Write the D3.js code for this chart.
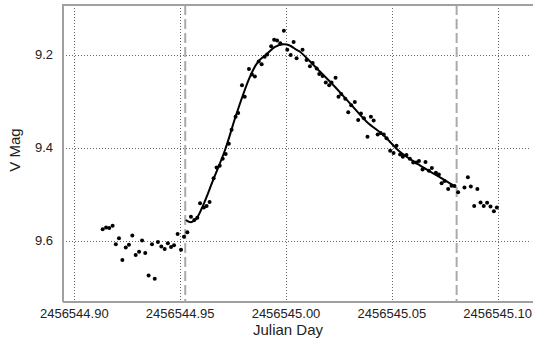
<!DOCTYPE html>
<html><head><meta charset="utf-8">
<script src="https://cdn.jsdelivr.net/npm/d3@7"></script>
<style>body{margin:0;background:#fff}svg{display:block}text{font-family:"Liberation Sans",Arial,sans-serif;fill:#222}</style>
</head><body><svg id="c" width="533" height="349"></svg>
<script>
const obsJD = [2456544.9134,2456544.9150,2456544.9165,2456544.9181,2456544.9196,2456544.9211,2456544.9227,2456544.9243,2456544.9258,2456544.9274,2456544.9290,2456544.9306,2456544.9320,2456544.9335,2456544.9351,2456544.9380,2456544.9367,2456544.9395,2456544.9411,2456544.9427,2456544.9442,2456544.9457,2456544.9471,2456544.9488,2456544.9504,2456544.9518,2456544.9534,2456544.9551,2456544.9567,2456544.9581,2456544.9594,2456544.9612,2456544.9625,2456544.9639,2456544.9658,2456544.9672,2456544.9687,2456544.9701,2456544.9715,2456544.9730,2456544.9743,2456544.9762,2456544.9774,2456544.9792,2456544.9805,2456544.9825,2456544.9839,2456544.9853,2456544.9871,2456544.9885,2456544.9899,2456544.9911,2456544.9930,2456544.9944,2456544.9958,2456544.9973,2456544.9990,2456545.0006,2456545.0022,2456545.0036,2456545.0050,2456545.0078,2456545.0097,2456545.0113,2456545.0126,2456545.0145,2456545.0157,2456545.0173,2456545.0188,2456545.0204,2456545.0215,2456545.0234,2456545.0248,2456545.0261,2456545.0280,2456545.0294,2456545.0308,2456545.0325,2456545.0341,2456545.0354,2456545.0368,2456545.0385,2456545.0401,2456545.0414,2456545.0433,2456545.0447,2456545.0462,2456545.0475,2456545.0492,2456545.0508,2456545.0522,2456545.0539,2456545.0552,2456545.0569,2456545.0585,2456545.0601,2456545.0615,2456545.0628,2456545.0645,2456545.0659,2456545.0675,2456545.0689,2456545.0708,2456545.0722,2456545.0735,2456545.0749,2456545.0766,2456545.0782,2456545.0796,2456545.0813,2456545.0843,2456545.0859,2456545.0873,2456545.0904,2456545.0889,2456545.0919,2456545.0934,2456545.0950,2456545.0966,2456545.0982,2456545.0996];
const obsMag = [9.575,9.571,9.572,9.567,9.607,9.594,9.641,9.614,9.608,9.588,9.630,9.623,9.599,9.626,9.674,9.681,9.607,9.602,9.612,9.617,9.605,9.613,9.609,9.585,9.619,9.591,9.581,9.548,9.555,9.550,9.519,9.528,9.525,9.516,9.465,9.442,9.438,9.423,9.413,9.391,9.361,9.333,9.325,9.265,9.290,9.230,9.242,9.246,9.214,9.220,9.204,9.199,9.181,9.167,9.169,9.175,9.148,9.189,9.200,9.172,9.207,9.189,9.211,9.224,9.217,9.229,9.241,9.245,9.259,9.265,9.259,9.249,9.290,9.284,9.294,9.323,9.308,9.301,9.340,9.326,9.336,9.376,9.333,9.341,9.371,9.368,9.371,9.379,9.406,9.411,9.395,9.414,9.419,9.415,9.423,9.431,9.431,9.428,9.446,9.430,9.449,9.443,9.453,9.457,9.476,9.471,9.488,9.481,9.482,9.495,9.485,9.463,9.483,9.488,9.525,9.517,9.525,9.518,9.526,9.536,9.528];
const fitJD = [2456544.9527,2456544.9551,2456544.9575,2456544.9603,2456544.9656,2456544.9712,2456544.9767,2456544.9830,2456544.9867,2456544.9908,2456544.9948,2456544.9987,2456545.0018,2456545.0050,2456545.0066,2456545.0145,2456545.0223,2456545.0302,2456545.0381,2456545.0459,2456545.0538,2456545.0617,2456545.0695,2456545.0774,2456545.0802];
const fitMag = [9.5548,9.5598,9.5527,9.5290,9.4688,9.4043,9.3254,9.2467,9.2151,9.1985,9.1828,9.1770,9.1796,9.1892,9.1929,9.2286,9.2645,9.3039,9.3434,9.3720,9.4080,9.4329,9.4544,9.4759,9.4828];
const fitRange = [2456544.9524, 2456545.0806];
const xTicks = [2456544.90, 2456544.95, 2456545.00, 2456545.05, 2456545.10];
const yTicks = [9.2, 9.4, 9.6];
const xDomain = [2456544.89466, 2456545.11573];
const yDomain = [9.0925, 9.7312];

const svg = d3.select("#c");
const L = 63, R = 531, T = 5, B = 302;
const x = d3.scaleLinear().domain(xDomain).range([L, R]);
const y = d3.scaleLinear().domain(yDomain).range([T, B]);

// grid
svg.append("g").selectAll("line").data(xTicks).join("line")
  .attr("x1", d => Math.round(x(d)) + 0.5).attr("x2", d => Math.round(x(d)) + 0.5)
  .attr("y1", T).attr("y2", B)
  .attr("stroke", "#666").attr("stroke-width", 1).attr("stroke-dasharray", "1,2");
svg.append("g").selectAll("line").data(yTicks).join("line")
  .attr("y1", d => Math.round(y(d)) + 0.5).attr("y2", d => Math.round(y(d)) + 0.5)
  .attr("x1", L).attr("x2", R)
  .attr("stroke", "#666").attr("stroke-width", 1).attr("stroke-dasharray", "1,2");

// fit range dashed
svg.append("g").selectAll("line").data(fitRange).join("line")
  .attr("x1", d => x(d)).attr("x2", d => x(d))
  .attr("y1", T).attr("y2", B)
  .attr("stroke", "#aaa").attr("stroke-width", 2).attr("stroke-dasharray", "10,4");

// frame
svg.append("path").attr("d", `M${L},${B}V${T}H${R+2}M${L},${B}H${R+2}`)
  .attr("fill", "none").attr("stroke", "#a0a0a0").attr("stroke-width", 2);

// fit curve
const fit = fitJD.map((d, i) => [d, fitMag[i]]);
svg.append("path").datum(fit)
  .attr("d", d3.line().x(d => x(d[0])).y(d => y(d[1])).curve(d3.curveCatmullRom))
  .attr("fill", "none").attr("stroke", "#000").attr("stroke-width", 2);

// points
svg.append("g").selectAll("circle").data(obsJD.map((d, i) => [d, obsMag[i]])).join("circle")
  .attr("cx", d => x(d[0])).attr("cy", d => y(d[1])).attr("r", 2).attr("fill", "#000");

// axes labels
const fmtX = d3.format(".2f"), fmtY = d3.format(".1f");
svg.append("g").selectAll("text").data(xTicks).join("text")
  .attr("x", d => x(d)).attr("y", 318).attr("text-anchor", "middle")
  .attr("font-size", 13).text(d => fmtX(d));
svg.append("g").selectAll("text").data(yTicks).join("text")
  .attr("x", 53).attr("y", d => y(d) + 4.5).attr("text-anchor", "end")
  .attr("font-size", 13).text(d => fmtY(d));

svg.append("text").attr("x", 288).attr("y", 335).attr("text-anchor", "middle")
  .attr("font-size", 15).text("Julian Day");
svg.append("text").attr("transform", "translate(20,150) rotate(-90)").attr("text-anchor", "middle")
  .attr("font-size", 15).text("V Mag");
</script></body></html>
